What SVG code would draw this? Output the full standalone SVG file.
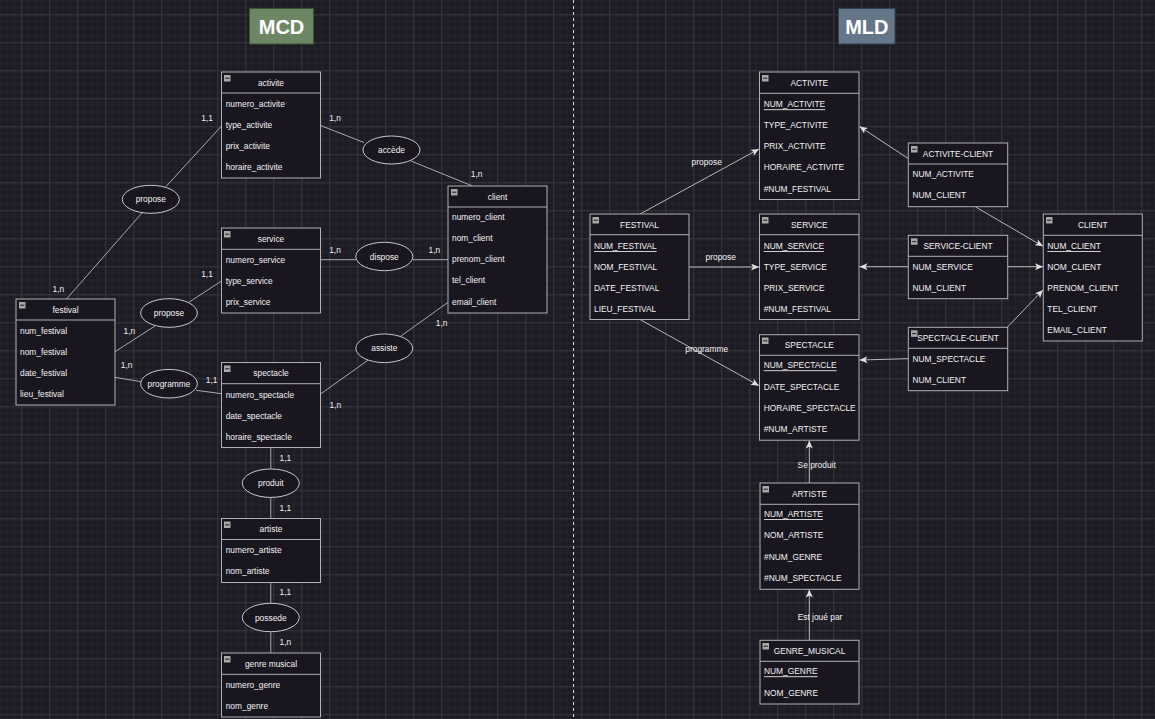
<svg xmlns="http://www.w3.org/2000/svg" width="1155" height="719" viewBox="0 0 1155 719">
<defs>
<pattern id="grid" width="28" height="28" patternUnits="userSpaceOnUse" x="21.3" y="14.3">
<path d="M7,0V28M14,0V28M21,0V28M0,7H28M0,14H28M0,21H28" stroke="#26242c" stroke-width="1" fill="none"/>
<path d="M0.5,0V28M0,0.5H28" stroke="#38363f" stroke-width="1" fill="none"/>
</pattern>
<marker id="arr" markerWidth="9" markerHeight="7" refX="8" refY="3.5" orient="auto" markerUnits="userSpaceOnUse">
<path d="M0,0 L8,3.5 L0,7 L2,3.5 z" fill="#e0e0e0"/>
</marker>
<g id="ico"><rect x="0" y="0" width="6.5" height="6.5" fill="#a8a8a8"/><path d="M1.2,3.25H5.3" stroke="#333" stroke-width="1.2"/></g>
</defs>
<style>
text{font-family:"Liberation Sans",Arial,sans-serif;fill:#f2f2f2;font-size:8.4px;dominant-baseline:central}
.box{fill:#19161f;stroke:#b0b0b0;stroke-width:1}
.sep{stroke:#b0b0b0;stroke-width:1}
.h{text-anchor:middle}
.u{text-decoration:underline}
.ell{fill:#19161f;stroke:#c8c8c8;stroke-width:1}
.c{text-anchor:middle}
.ln{stroke:#a9a9a9;stroke-width:1;fill:none}
.la{stroke:#b8b8b8;stroke-width:1;fill:none;marker-end:url(#arr)}
.card{font-size:8.4px}
.title{font-size:20px;font-weight:bold;text-anchor:middle;fill:#ffffff}
</style>
<rect width="1155" height="719" fill="#1d1b23"/>
<rect width="1155" height="719" fill="url(#grid)"/>
<line x1="573.5" y1="0" x2="573.5" y2="719" stroke="#d8d8d8" stroke-width="1" stroke-dasharray="3,3"/>

<g id="title-mcd"><rect x="249.5" y="8.5" width="64" height="35.5" fill="#6d8764" stroke="#3a5431"/><text class="title" x="281.5" y="27">MCD</text></g>
<g id="title-mld"><rect x="838.5" y="8.5" width="56.5" height="35.5" fill="#647687" stroke="#314354"/><text class="title" x="866.8" y="27">MLD</text></g>

<g id="connectors">
<line class="ln" x1="66.5" y1="299" x2="142" y2="213"/>
<line class="ln" x1="166" y1="186.5" x2="221.5" y2="126"/>
<line class="ln" x1="320.5" y1="125.5" x2="364" y2="142.5"/>
<line class="ln" x1="411" y1="161" x2="472.5" y2="186"/>
<line class="ln" x1="320.5" y1="259.7" x2="356" y2="259.7"/>
<line class="ln" x1="413" y1="259.7" x2="448" y2="259.7"/>
<line class="ln" x1="221.5" y1="281" x2="189.3" y2="302"/>
<line class="ln" x1="155" y1="326" x2="115" y2="351.7"/>
<line class="ln" x1="115" y1="377.3" x2="141" y2="381.7"/>
<line class="ln" x1="196" y1="390.3" x2="221.5" y2="393.7"/>
<line class="ln" x1="320.5" y1="394" x2="368.3" y2="360"/>
<line class="ln" x1="401" y1="336" x2="448" y2="302.3"/>
<line class="ln" x1="270.8" y1="447.5" x2="270.8" y2="469"/>
<line class="ln" x1="270.8" y1="497.3" x2="270.8" y2="518.5"/>
<line class="ln" x1="270.8" y1="582.5" x2="270.8" y2="603.3"/>
<line class="ln" x1="270.8" y1="631.7" x2="270.8" y2="653"/>

<line class="la" x1="640" y1="214" x2="759" y2="149"/>
<line class="la" x1="689" y1="267" x2="759" y2="267"/>
<line class="la" x1="640" y1="319.5" x2="759" y2="385.7"/>
<line class="la" x1="908.5" y1="158.7" x2="859.5" y2="126.5"/>
<line class="la" x1="975.7" y1="207" x2="1043" y2="246.3"/>
<line class="la" x1="908.5" y1="266.7" x2="859.5" y2="266.7"/>
<line class="la" x1="1007.5" y1="266.7" x2="1043" y2="266.7"/>
<line class="la" x1="1007.5" y1="327" x2="1043" y2="290"/>
<line class="la" x1="908.5" y1="358.7" x2="859.5" y2="360"/>
<line class="la" x1="809.3" y1="483" x2="809.3" y2="440.5"/>
<line class="la" x1="809.3" y1="640.5" x2="809.3" y2="589.5"/>

<text class="card c" x="207" y="118.3">1,1</text>
<text class="card c" x="58.3" y="288.7">1,n</text>
<text class="card c" x="335" y="118.3">1,n</text>
<text class="card c" x="476.7" y="174.3">1,n</text>
<text class="card c" x="335" y="250">1,n</text>
<text class="card c" x="434.3" y="250">1,n</text>
<text class="card c" x="207" y="274">1,1</text>
<text class="card c" x="129.3" y="331">1,n</text>
<text class="card c" x="126.7" y="365.3">1,n</text>
<text class="card c" x="211.7" y="380.3">1,1</text>
<text class="card c" x="335.3" y="405.3">1,n</text>
<text class="card c" x="441.7" y="323.3">1,n</text>
<text class="card c" x="285.3" y="458.3">1,1</text>
<text class="card c" x="285.3" y="507.7">1,1</text>
<text class="card c" x="285.3" y="592.3">1,1</text>
<text class="card c" x="285.3" y="642.3">1,n</text>

<text class="c" x="706.7" y="161.7">propose</text>
<text class="c" x="720.7" y="256.7">propose</text>
<text class="c" x="706.7" y="348.7">programme</text>
<text class="c" x="816.7" y="465">Se produit</text>
<text class="c" x="820" y="617.3">Est joué par</text>
</g>

<g id="rel-propose1"><ellipse class="ell" cx="150.8" cy="199.3" rx="28.5" ry="14"/><text class="c" x="150.8" y="199.3">propose</text></g>
<g id="rel-accede"><ellipse class="ell" cx="391.5" cy="150" rx="28.5" ry="14"/><text class="c" x="391.5" y="150">accède</text></g>
<g id="rel-propose2"><ellipse class="ell" cx="169" cy="313" rx="28.3" ry="14.3"/><text class="c" x="169" y="313">propose</text></g>
<g id="rel-dispose"><ellipse class="ell" cx="384.3" cy="256.5" rx="28.5" ry="14.2"/><text class="c" x="384.3" y="256.5">dispose</text></g>
<g id="rel-programme"><ellipse class="ell" cx="169" cy="383.7" rx="28.3" ry="14.3"/><text class="c" x="169" y="383.7">programme</text></g>
<g id="rel-assiste"><ellipse class="ell" cx="384.3" cy="348.3" rx="28.4" ry="14.3"/><text class="c" x="384.3" y="348.3">assiste</text></g>
<g id="rel-produit"><ellipse class="ell" cx="270.8" cy="483.2" rx="28.5" ry="14.2"/><text class="c" x="270.8" y="483.2">produit</text></g>
<g id="rel-possede"><ellipse class="ell" cx="270.8" cy="617.5" rx="28.5" ry="14.2"/><text class="c" x="270.8" y="617.5">possede</text></g>

<g id="mcd-activite"><rect class="box" x="221.5" y="72" width="99" height="106"/><line class="sep" x1="221.5" y1="93" x2="320.5" y2="93"/><use href="#ico" x="224" y="75"/>
<text class="h" x="271" y="82.5">activite</text>
<text x="225.7" y="104">numero_activite</text><text x="225.7" y="125.3">type_activite</text><text x="225.7" y="146.3">prix_activite</text><text x="225.7" y="167.3">horaire_activite</text></g>

<g id="mcd-service"><rect class="box" x="221.5" y="228" width="99" height="85"/><line class="sep" x1="221.5" y1="249.3" x2="320.5" y2="249.3"/><use href="#ico" x="224" y="231"/>
<text class="h" x="271" y="238.5">service</text>
<text x="225.7" y="259.5">numero_service</text><text x="225.7" y="280.5">type_service</text><text x="225.7" y="301.5">prix_service</text></g>

<g id="mcd-festival"><rect class="box" x="16" y="299" width="99" height="106"/><line class="sep" x1="16" y1="320" x2="115" y2="320"/><use href="#ico" x="19" y="302"/>
<text class="h" x="65.5" y="309.5">festival</text>
<text x="20" y="331">num_festival</text><text x="20" y="352">nom_festival</text><text x="20" y="373">date_festival</text><text x="20" y="394">lieu_festival</text></g>

<g id="mcd-spectacle"><rect class="box" x="221.5" y="362.5" width="99" height="85"/><line class="sep" x1="221.5" y1="383.7" x2="320.5" y2="383.7"/><use href="#ico" x="224" y="365.5"/>
<text class="h" x="271" y="373">spectacle</text>
<text x="225.7" y="394.5">numero_spectacle</text><text x="225.7" y="416">date_spectacle</text><text x="225.7" y="437">horaire_spectacle</text></g>

<g id="mcd-client"><rect class="box" x="448" y="186" width="99" height="127"/><line class="sep" x1="448" y1="207" x2="547" y2="207"/><use href="#ico" x="451" y="189"/>
<text class="h" x="497.5" y="196.5">client</text>
<text x="452" y="217.3">numero_client</text><text x="452" y="238.3">nom_client</text><text x="452" y="259.3">prenom_client</text><text x="452" y="280.3">tel_client</text><text x="452" y="302">email_client</text></g>

<g id="mcd-artiste"><rect class="box" x="221.5" y="518.5" width="99" height="64"/><line class="sep" x1="221.5" y1="539.5" x2="320.5" y2="539.5"/><use href="#ico" x="224" y="521.5"/>
<text class="h" x="271" y="529">artiste</text>
<text x="225.7" y="550.3">numero_artiste</text><text x="225.7" y="571.3">nom_artiste</text></g>

<g id="mcd-genre"><rect class="box" x="221.5" y="653" width="99" height="64"/><line class="sep" x1="221.5" y1="674.3" x2="320.5" y2="674.3"/><use href="#ico" x="224" y="656"/>
<text class="h" x="271" y="663.5">genre musical</text>
<text x="225.7" y="684.7">numero_genre</text><text x="225.7" y="705.7">nom_genre</text></g>

<g id="mld-activite"><rect class="box" x="759.5" y="72" width="99.5" height="127.5"/><line class="sep" x1="759.5" y1="93.3" x2="859" y2="93.3"/><use href="#ico" x="762" y="75"/>
<text class="h" x="809.3" y="82.5">ACTIVITE</text>
<text class="u" x="763.7" y="104.3">NUM_ACTIVITE</text><text x="763.7" y="125.3">TYPE_ACTIVITE</text><text x="763.7" y="146.3">PRIX_ACTIVITE</text><text x="763.7" y="167.3">HORAIRE_ACTIVITE</text><text x="763.7" y="189">#NUM_FESTIVAL</text></g>

<g id="mld-festival"><rect class="box" x="590" y="214" width="99" height="105.5"/><line class="sep" x1="590" y1="234.7" x2="689" y2="234.7"/><use href="#ico" x="592.5" y="217"/>
<text class="h" x="639.5" y="224.5">FESTIVAL</text>
<text class="u" x="594" y="246">NUM_FESTIVAL</text><text x="594" y="267">NOM_FESTIVAL</text><text x="594" y="288">DATE_FESTIVAL</text><text x="594" y="309">LIEU_FESTIVAL</text></g>

<g id="mld-service"><rect class="box" x="759.5" y="214" width="99.5" height="105.5"/><line class="sep" x1="759.5" y1="234.7" x2="859" y2="234.7"/><use href="#ico" x="762" y="217"/>
<text class="h" x="809.3" y="224.5">SERVICE</text>
<text class="u" x="763.7" y="246">NUM_SERVICE</text><text x="763.7" y="267">TYPE_SERVICE</text><text x="763.7" y="288">PRIX_SERVICE</text><text x="763.7" y="309">#NUM_FESTIVAL</text></g>

<g id="mld-spectacle"><rect class="box" x="759.5" y="334.7" width="99.5" height="105.5"/><line class="sep" x1="759.5" y1="355.3" x2="859" y2="355.3"/><use href="#ico" x="762" y="337.5"/>
<text class="h" x="809.3" y="344.5">SPECTACLE</text>
<text class="u" x="763.7" y="365.3">NUM_SPECTACLE</text><text x="763.7" y="387">DATE_SPECTACLE</text><text x="763.7" y="408">HORAIRE_SPECTACLE</text><text x="763.7" y="429">#NUM_ARTISTE</text></g>

<g id="mld-artiste"><rect class="box" x="760" y="483" width="99" height="106.3"/><line class="sep" x1="760" y1="504.3" x2="859" y2="504.3"/><use href="#ico" x="762.5" y="486"/>
<text class="h" x="809.5" y="493.5">ARTISTE</text>
<text class="u" x="764" y="514">NUM_ARTISTE</text><text x="764" y="535.3">NOM_ARTISTE</text><text x="764" y="557">#NUM_GENRE</text><text x="764" y="578">#NUM_SPECTACLE</text></g>

<g id="mld-genre"><rect class="box" x="760" y="640.3" width="99" height="63.7"/><line class="sep" x1="760" y1="661.3" x2="859" y2="661.3"/><use href="#ico" x="762.5" y="643"/>
<text class="h" x="809.5" y="650.5">GENRE_MUSICAL</text>
<text class="u" x="764" y="671.3">NUM_GENRE</text><text x="764" y="693">NOM_GENRE</text></g>

<g id="mld-activite-client"><rect class="box" x="908.3" y="143" width="99.4" height="63.7"/><line class="sep" x1="908.3" y1="164" x2="1007.7" y2="164"/><use href="#ico" x="911" y="146"/>
<text class="h" x="958" y="153.5">ACTIVITE-CLIENT</text>
<text x="912.5" y="174">NUM_ACTIVITE</text><text x="912.5" y="195">NUM_CLIENT</text></g>

<g id="mld-service-client"><rect class="box" x="908.3" y="235.3" width="99.4" height="63.4"/><line class="sep" x1="908.3" y1="256.3" x2="1007.7" y2="256.3"/><use href="#ico" x="911" y="238.3"/>
<text class="h" x="958" y="246">SERVICE-CLIENT</text>
<text x="912.5" y="267">NUM_SERVICE</text><text x="912.5" y="288">NUM_CLIENT</text></g>

<g id="mld-spectacle-client"><rect class="box" x="908.3" y="327.3" width="99.4" height="63.4"/><line class="sep" x1="908.3" y1="348.3" x2="1007.7" y2="348.3"/><use href="#ico" x="911" y="330.3"/>
<text class="h" x="958" y="338">SPECTACLE-CLIENT</text>
<text x="912.5" y="359">NUM_SPECTACLE</text><text x="912.5" y="380">NUM_CLIENT</text></g>

<g id="mld-client"><rect class="box" x="1043.3" y="214" width="99" height="127"/><line class="sep" x1="1043.3" y1="235.3" x2="1142.3" y2="235.3"/><use href="#ico" x="1046" y="217"/>
<text class="h" x="1092.8" y="224.5">CLIENT</text>
<text class="u" x="1047.3" y="246">NUM_CLIENT</text><text x="1047.3" y="267">NOM_CLIENT</text><text x="1047.3" y="288">PRENOM_CLIENT</text><text x="1047.3" y="309">TEL_CLIENT</text><text x="1047.3" y="330">EMAIL_CLIENT</text></g>
</svg>
